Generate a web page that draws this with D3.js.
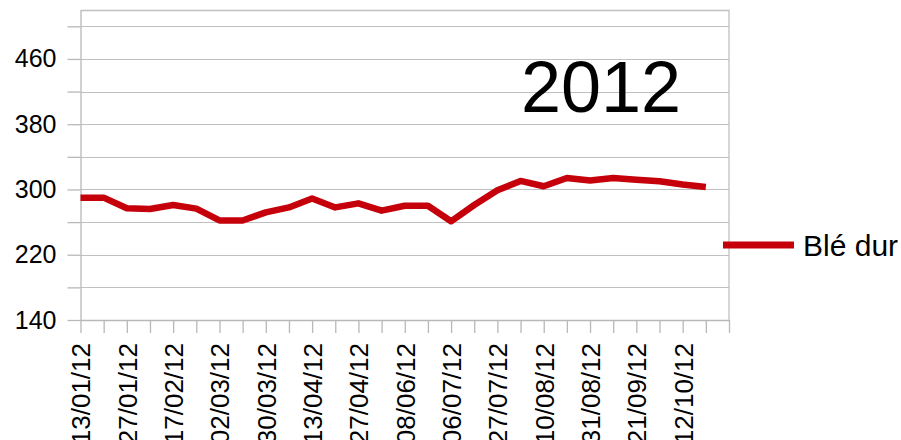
<!DOCTYPE html>
<head>
  <meta charset="utf-8">
  <title>Blé dur 2012</title>
  <style>
    body { margin: 0; background: #fff; }
    svg text { font-family: "Liberation Sans", Arial, sans-serif; fill: #000; }
    .grid line { stroke: #c0c0c0; stroke-width: 1px; }
    .axis path, .axis line { stroke: #b8b8b8; stroke-width: 1.3px; }
  </style>
</head>
<body>
  <div id="chart"></div>
  <script src="https://cdn.jsdelivr.net/npm/d3@7"></script>
  <script>
    // weekly quotations, every other label shown on the axis
    var dates = ["13/01/12", "20/01/12", "27/01/12", "10/02/12", "17/02/12", "24/02/12",
                 "02/03/12", "16/03/12", "30/03/12", "06/04/12", "13/04/12", "20/04/12",
                 "27/04/12", "25/05/12", "08/06/12", "22/06/12", "06/07/12", "20/07/12",
                 "27/07/12", "03/08/12", "10/08/12", "24/08/12", "31/08/12", "14/09/12",
                 "21/09/12", "05/10/12", "12/10/12", "19/10/12"];
    var prix = [290, 290, 277, 276, 281, 276.5, 262, 262, 272, 278,
                289, 278, 283, 274, 280, 280, 261, 281, 299, 310.5,
                304, 314, 311, 314, 312, 310, 306, 303];
    var yTicks = [140, 180, 220, 260, 300, 340, 380, 420, 460, 500];
    var yLabels = [140, 220, 300, 380, 460];
    var serie = "Blé dur";
    var titre = "2012";

    var width = 901,
        height = 440;

    var svg = d3.select("#chart")
        .append("svg")
        .attr("width", width)
        .attr("height", height);

    var plotLeft = 80.5, plotRight = 729, plotTop = 10, plotBottom = 320;

    // one empty slot after the last week, like the original
    var x = d3.scaleLinear()
        .domain([0, dates.length])
        .range([plotLeft, plotRight]);

    var y = d3.scaleLinear()
        .domain([140, 520])
        .range([plotBottom, plotTop]);

    // horizontal grid
    svg.append("g")
        .attr("class", "grid")
        .selectAll("line")
        .data(yTicks)
        .enter().append("line")
        .attr("x1", plotLeft)
        .attr("x2", plotRight)
        .attr("y1", function(d) { return Math.round(y(d)) + 0.5; })
        .attr("y2", function(d) { return Math.round(y(d)) + 0.5; });

    // wall border top / right
    svg.append("path")
        .attr("d", "M" + plotLeft + "," + (plotTop + 0.5) + "H" + plotRight + "V" + plotBottom)
        .attr("fill", "none")
        .attr("stroke", "#c0c0c0")
        .attr("stroke-width", 1.3);

    var yAxis = svg.append("g")
        .attr("class", "axis")
        .attr("transform", "translate(" + plotLeft + ",0)")
        .call(d3.axisLeft(y)
          .tickValues(yTicks.concat([520]))
          .tickSize(13)
          .tickPadding(11)
          .tickSizeOuter(0)
          .tickFormat(function(d) { return yLabels.indexOf(d) >= 0 ? d : ""; }));
    yAxis.selectAll(".tick").filter(function(d) { return d === 520; }).select("line").remove();
    yAxis.selectAll("text").style("font-size", "25px");

    var xAxis = svg.append("g")
        .attr("class", "axis")
        .attr("transform", "translate(0," + plotBottom + ")")
        .call(d3.axisBottom(x)
          .tickValues(d3.range(dates.length + 1))
          .tickSize(13)
          .tickSizeOuter(0)
          .tickFormat(function(i) { return (i % 2 === 0 && dates[i]) ? dates[i] : ""; }));
    xAxis.selectAll("text")
        .attr("transform", "rotate(-90)")
        .attr("x", -23)
        .attr("y", 0)
        .attr("dy", "0.36em")
        .style("text-anchor", "end")
        .style("font-size", "26px");

    var line = d3.line()
        .x(function(d, i) { return x(i); })
        .y(function(d) { return y(d); });

    svg.append("path")
        .datum(prix)
        .attr("fill", "none")
        .attr("stroke", "#c5000b")
        .attr("stroke-width", 6.5)
        .attr("stroke-linejoin", "round")
        .attr("d", line);

    svg.append("text")
        .attr("x", 601)
        .attr("y", 112)
        .attr("text-anchor", "middle")
        .style("font-size", "72px")
        .text(titre);

    // legend
    var leg = svg.append("g").attr("transform", "translate(723,245)");
    leg.append("line")
        .attr("x1", 0).attr("x2", 71)
        .attr("stroke", "#c5000b")
        .attr("stroke-width", 7);
    leg.append("text")
        .attr("x", 80)
        .attr("y", 11)
        .style("font-size", "30px")
        .text(serie);
  </script>
</body>
